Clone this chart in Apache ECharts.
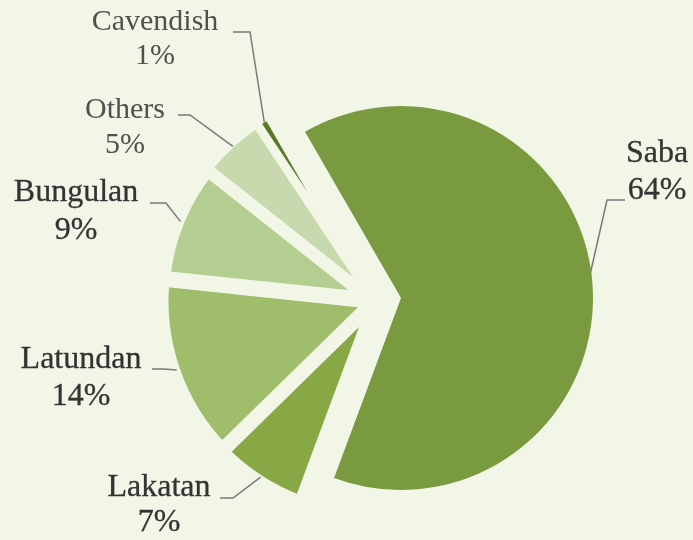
<!DOCTYPE html>
<html>
<head>
<meta charset="utf-8">
<title>Banana varieties</title>
<script src="https://cdn.jsdelivr.net/npm/echarts@6/dist/echarts.min.js"></script>
<style>
  html, body { margin: 0; padding: 0; background: #f2f6e7; }
  #chart { width: 693px; height: 540px; }
</style>
</head>
<body>
<div id="chart"></div>
<script>
// Share of banana production by variety (%)
const categories = ['Saba', 'Lakatan', 'Latundan', 'Bungulan', 'Others', 'Cavendish'];
const shares = [64, 7, 14, 9, 5, 1];

// Slice styling
const sliceColors = {
  Saba: '#7a9a40',
  Lakatan: '#87a845',
  Latundan: '#a0bd6c',
  Bungulan: '#b4cd90',
  Others: '#c8d9ae',
  Cavendish: '#5a7a2a'
};
const sliceBorders = { Lakatan: 12, Latundan: 15, Bungulan: 16, Others: 10, Cavendish: 8 };
const bg = '#f2f6e7';

// Pies: the main Saba wedge, the other varieties pulled apart from it,
// and a transparent copy of the latter carrying labels above the wedge borders
const pieCenters = [[401, 298], [375, 301], [375, 301]];
const pieRadii = [192, 214, 214];

// Label placement: block centre, elbow and end of the leader line
const labelSpots = {
  Saba:      { x: 657, y: 172, elbow: [607, 200], end: [625, 200], size: 32, lh: 37, color: '#333333', heavy: true },
  Lakatan:   { x: 159, y: 505, elbow: [233, 498], end: [220, 498], size: 32, lh: 35, color: '#333333', heavy: true },
  Latundan:  { x: 81,  y: 378, elbow: [164, 369], end: [152, 369], size: 32, lh: 37, color: '#333333', heavy: true },
  Bungulan:  { x: 76,  y: 212, elbow: [166, 203], end: [150, 203], size: 32, lh: 38, color: '#333333', heavy: true },
  Others:    { x: 125, y: 128, elbow: [190, 115], end: [178, 115], size: 30, lh: 35, color: '#505050', heavy: false },
  Cavendish: { x: 155, y: 39,  elbow: [250, 32],  end: [233, 32],  size: 30, lh: 34, color: '#505050', heavy: false }
};

const hidden = { color: 'transparent', borderWidth: 0 };

function buildData(visible, paint, labelled) {
  return categories.map(function (name, i) {
    const show = visible(name);
    const spot = labelSpots[name];
    const withLabel = show && labelled;
    return {
      name: name,
      value: shares[i],
      itemStyle: show && paint
        ? { color: sliceColors[name], borderColor: bg, borderWidth: sliceBorders[name] || 0 }
        : hidden,
      label: withLabel
        ? {
            show: true,
            fontSize: spot.size,
            lineHeight: spot.lh,
            color: spot.color,
            textBorderColor: spot.color,
            textBorderWidth: spot.heavy ? 0.3 : 0
          }
        : { show: false },
      labelLine: { show: withLabel }
    };
  });
}

// Leader lines start just at the rim of the wedge, then bend to the text
function placeLabel(p) {
  const spot = labelSpots[categories[p.dataIndex]];
  if (!spot || !p.labelLinePoints) return {};
  const c = pieCenters[p.seriesIndex];
  const s = p.labelLinePoints[0];
  const vx = s[0] - c[0], vy = s[1] - c[1];
  const len = Math.sqrt(vx * vx + vy * vy) || 1;
  const rim = pieRadii[p.seriesIndex] - 4;
  const start = [c[0] + vx / len * rim, c[1] + vy / len * rim];
  return {
    x: spot.x,
    y: spot.y,
    align: 'center',
    verticalAlign: 'middle',
    labelLinePoints: [start, spot.elbow, spot.end]
  };
}

const common = {
  type: 'pie',
  startAngle: 120,
  clockwise: true,
  silent: true,
  avoidLabelOverlap: false,
  label: {
    position: 'outside',
    formatter: '{b}\n{c}%',
    fontFamily: '"Liberation Serif", "Times New Roman", serif',
    align: 'center'
  },
  labelLine: {
    length: 10,
    length2: 10,
    lineStyle: { color: '#7a7a7a', width: 1.5 }
  },
  labelLayout: placeLabel
};

function isSaba(n) { return n === 'Saba'; }
function notSaba(n) { return n !== 'Saba'; }

const chart = echarts.init(document.getElementById('chart'), null, { renderer: 'canvas' });
chart.setOption({
  backgroundColor: bg,
  animation: false,
  series: [
    Object.assign({}, common, {
      name: 'main',
      z: 2,
      center: pieCenters[0],
      radius: pieRadii[0],
      data: buildData(isSaba, true, true)
    }),
    Object.assign({}, common, {
      name: 'rest',
      z: 2,
      center: pieCenters[1],
      radius: pieRadii[1],
      data: buildData(notSaba, true, false)
    }),
    Object.assign({}, common, {
      name: 'rest-labels',
      z: 5,
      center: pieCenters[2],
      radius: pieRadii[2],
      data: buildData(notSaba, false, true)
    })
  ]
});
</script>
</body>
</html>
